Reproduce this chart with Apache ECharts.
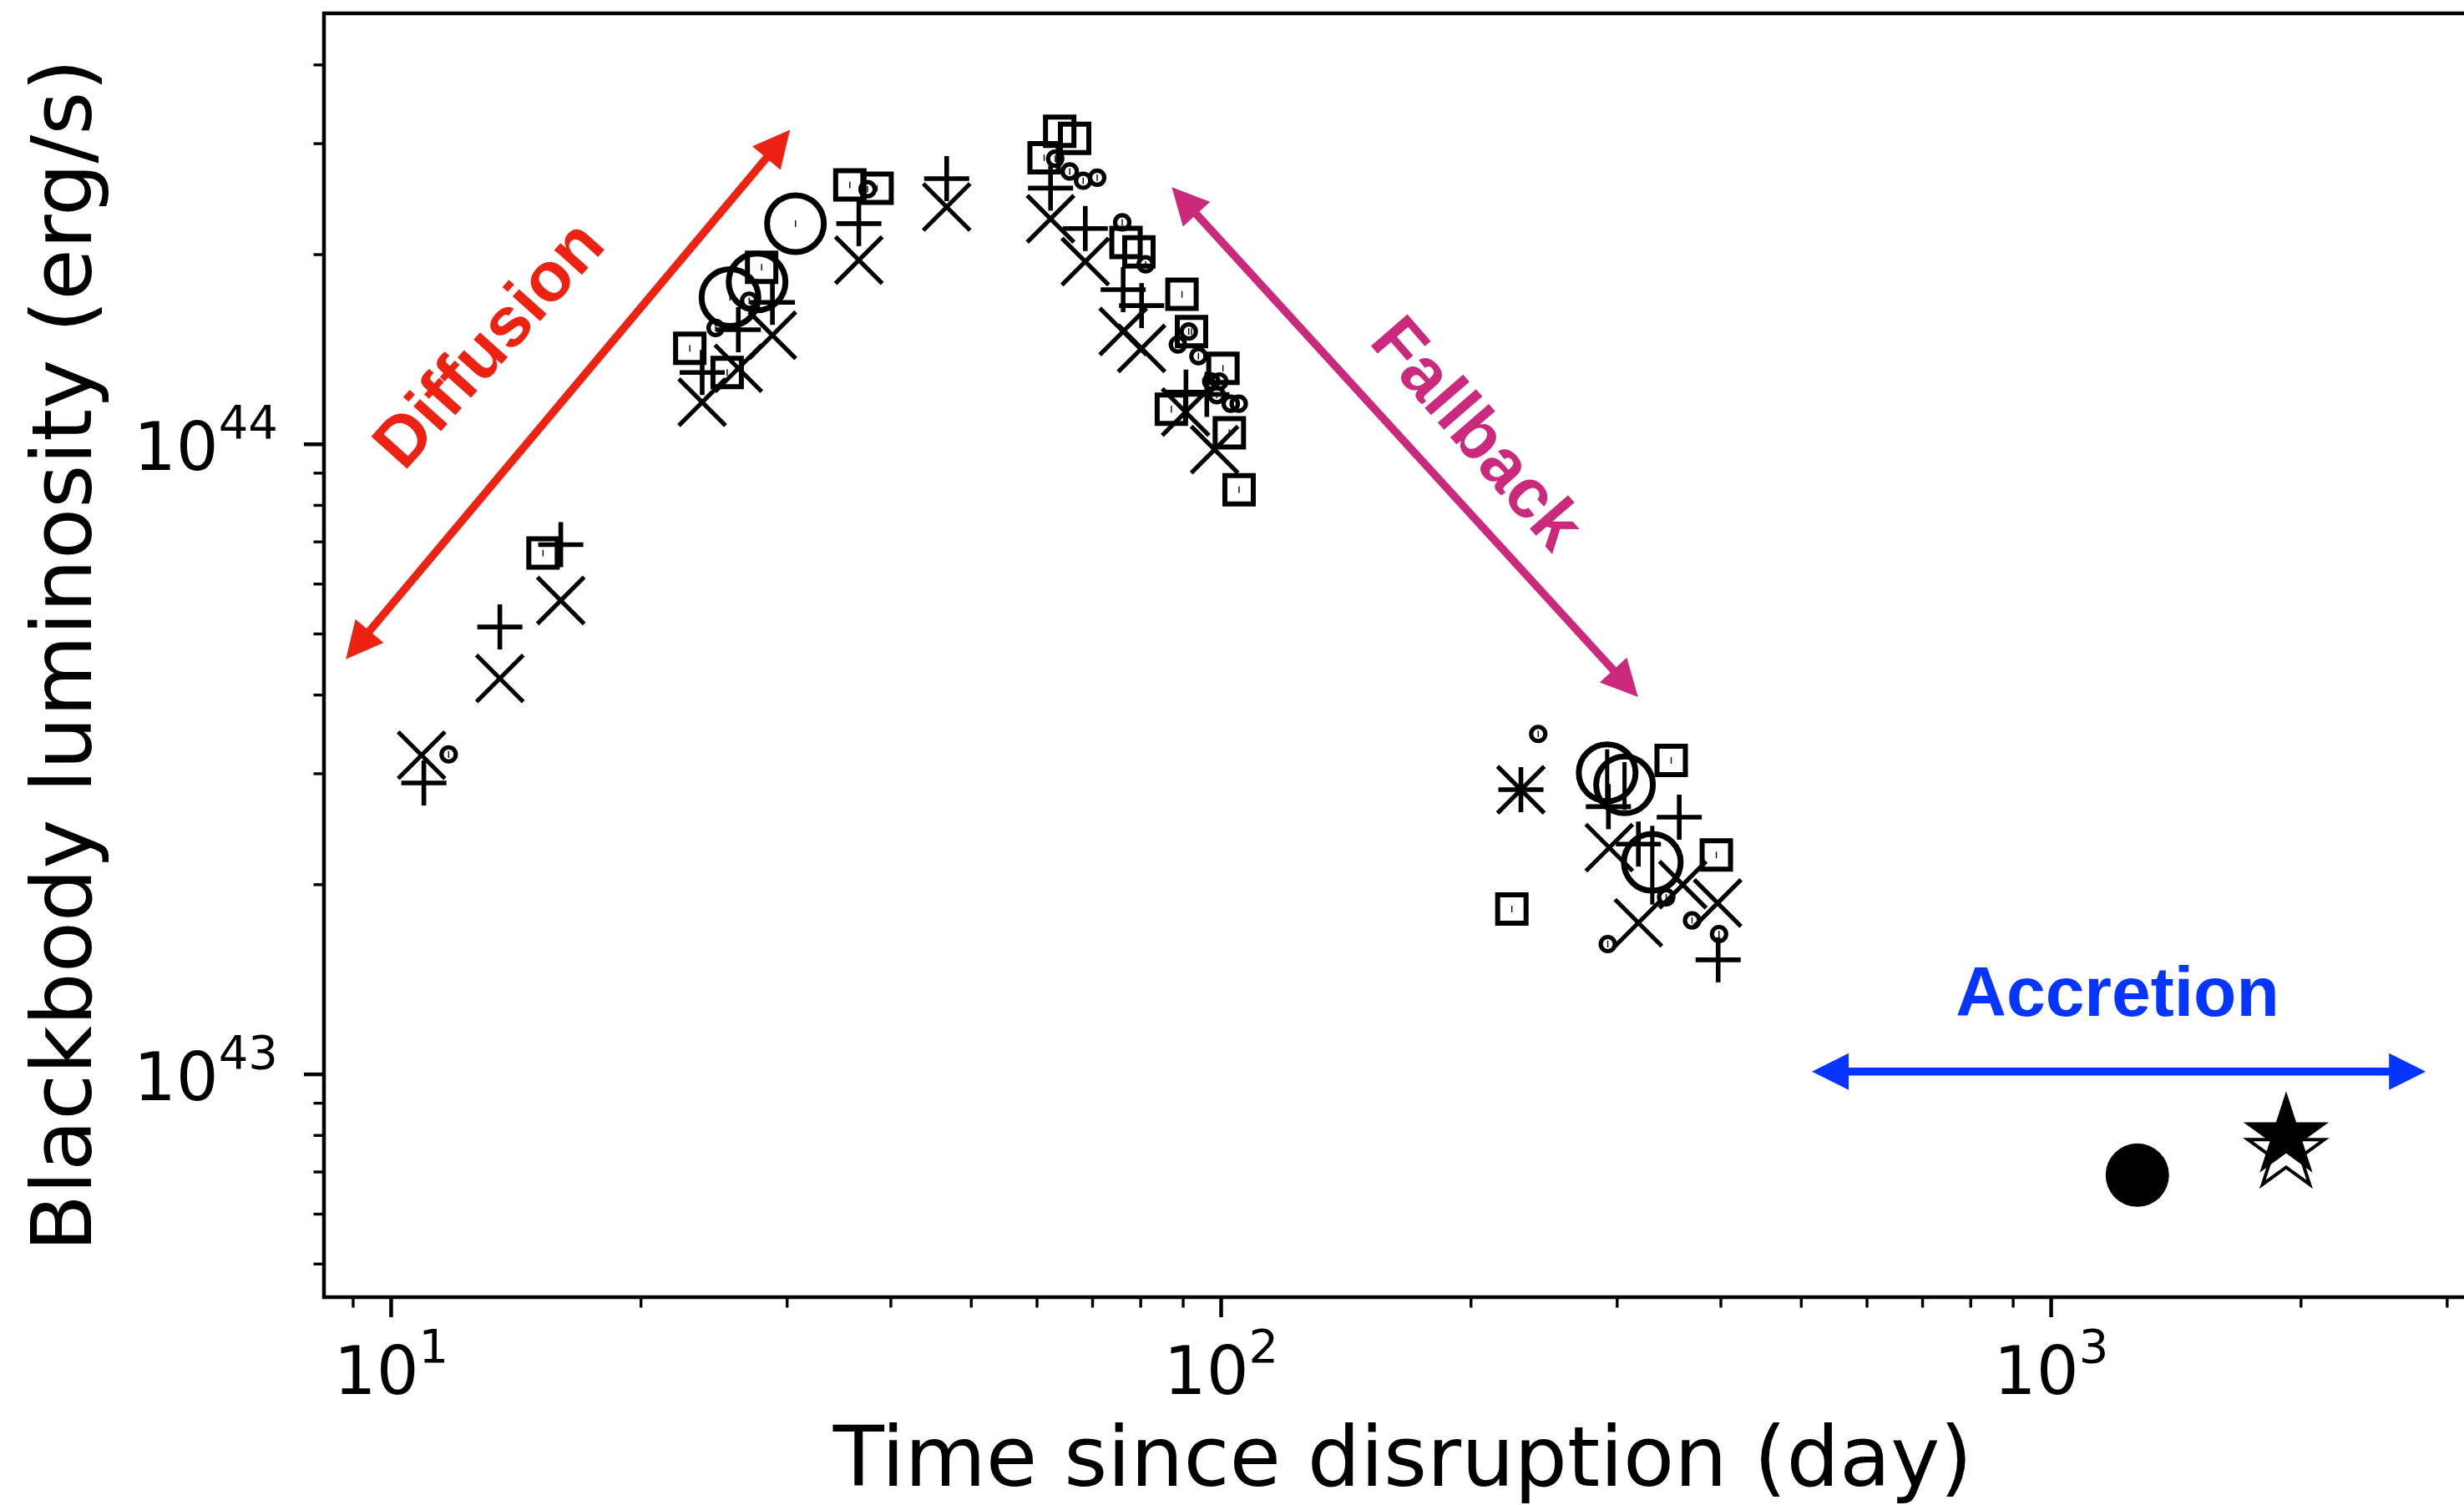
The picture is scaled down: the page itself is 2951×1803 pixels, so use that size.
<!DOCTYPE html>
<html>
<head>
<meta charset="utf-8">
<title>Blackbody luminosity vs time since disruption</title>
<script src="https://cdn.jsdelivr.net/npm/echarts@6/dist/echarts.min.js"></script>
<style>
  html, body { margin: 0; padding: 0; background: #fff; }
  #chart { width: 2951px; height: 1803px; }
</style>
</head>
<body>
<div id="chart"></div>
<script>
// ---- Data: [time since disruption (day), blackbody luminosity (erg/s), optional 1-sigma error] ----
const crossPts = [
  [10.88, 3.21e43], [13.52, 4.25e43], [16.01, 5.65e43], [23.7, 1.166e44], [26.2, 1.32e44],
  [28.8, 1.49e44], [36.6, 1.96e44], [46.7, 2.38e44], [62.3, 2.28e44], [68.6, 1.95e44],
  [76.2, 1.51e44], [80.2, 1.42e44], [90.6, 1.125e44], [98.2, 9.81e43],
  [293.5, 2.29e43], [318.2, 1.74e43], [359.9, 2.00e43], [396.4, 1.87e43]
];
const plusPts = [
  [10.95, 2.90e43], [13.52, 5.13e43], [16.01, 6.93e43], [23.7, 1.30e44], [26.2, 1.52e44],
  [28.8, 1.68e44], [36.6, 2.24e44], [46.7, 2.64e44], [62.3, 2.55e44], [68.6, 2.20e44],
  [76.2, 1.76e44], [80.2, 1.66e44], [90.7, 1.21e44], [96.1, 1.20e44],
  [292.8, 2.66e43], [318.2, 2.32e43], [356.4, 2.56e43], [397, 1.52e43]
];
const squarePts = [
  [15.24, 6.72e43, 0.08e43], [22.9, 1.42e44, 0.017e44], [25.4, 1.30e44, 0.016e44],
  [27.95, 1.91e44, 0.023e44], [35.7, 2.58e44, 0.03e44], [38.5, 2.55e44, 0.03e44],
  [61.2, 2.85e44, 0.034e44], [63.9, 3.14e44, 0.038e44], [66.6, 3.06e44, 0.037e44],
  [76.8, 2.09e44, 0.025e44], [79.6, 2.02e44, 0.024e44], [89.7, 1.73e44, 0.021e44],
  [92.1, 1.51e44, 0.018e44], [100.5, 1.32e44, 0.016e44], [87.1, 1.137e44, 0.014e44],
  [102.3, 1.043e44, 0.013e44], [105.1, 8.47e43, 0.10e43],
  [224, 1.83e43, 0.022e43], [348.5, 3.15e43, 0.038e43], [395, 2.23e43, 0.027e43]
];
const smallCirclePts = [
  [11.73, 3.22e43, 0.04e43], [24.6, 1.53e44, 0.018e44], [27.0, 1.69e44, 0.02e44],
  [37.5, 2.54e44, 0.03e44], [63.1, 2.84e44, 0.034e44], [65.7, 2.71e44, 0.033e44],
  [68.2, 2.62e44, 0.031e44], [70.9, 2.65e44, 0.032e44], [76.0, 2.25e44, 0.027e44],
  [81.1, 1.93e44, 0.023e44], [91.4, 1.51e44, 0.018e44], [88.7, 1.44e44, 0.017e44],
  [93.9, 1.38e44, 0.017e44], [97.3, 1.258e44, 0.015e44], [99.5, 1.258e44, 0.015e44],
  [98.8, 1.197e44, 0.014e44], [102.7, 1.16e44, 0.014e44], [105.0, 1.16e44, 0.014e44],
  [241, 3.47e43, 0.04e43], [292.3, 1.61e43, 0.02e43], [343.7, 1.91e43, 0.023e43],
  [369.3, 1.755e43, 0.021e43], [398, 1.67e43, 0.02e43]
];
const bigCirclePts = [
  [25.6, 1.71e44, 0.02e44], [27.6, 1.81e44, 0.022e44], [30.7, 2.24e44, 0.027e44],
  [291.8, 3.01e43, 0.27e43], [306.2, 2.88e43, 0.25e43], [330.7, 2.17e43, 0.31e43]
];
const asteriskPts = [[229.7, 2.83e43]];
const filledCirclePts = [[1270, 6.92e42]];
const openStarPts = [[1919, 7.53e42]];
const filledStarPts = [[1919, 7.98e42]];

// Phase annotations: arrows [t0, L0, t1, L1] and label anchors [t, L]
const phaseNames = ['Diffusion', 'Fallback', 'Accretion'];
const phaseArrows = [
  [8.82, 4.56e43, 30.24, 3.155e44],
  [87.2, 2.559e44, 317.9, 3.97e43],
  [515, 1.01e43, 2827, 1.01e43]
];
const phaseLabelAt = [[13.2, 1.43e44], [202, 1.032e44], [1202, 1.328e43]];

// Axis ranges and tick decades
const X_MIN = 8.3, X_MAX = 3300;
const Y_MIN = 4.43e42, Y_MAX = 4.83e44;
const xDecades = [0, 1, 2, 3];
const yDecades = [42, 43, 44];

// ---- Styles ----
const phaseColors = ['#EE2212', '#CB2A7C', '#0535FF'];
const phaseAngles = [48, -49, 0];
const FONT = '"DejaVu Sans", sans-serif';
const INK = '#000';

function tickList(lo, hi, decades) {
  const out = [];
  decades.forEach(d => {
    for (let m = 1; m <= 9; m++) {
      const v = m * Math.pow(10, d);
      if (v >= lo && v <= hi) out.push([v, m === 1 ? 1 : 0]);
    }
  });
  return out;
}
const xTicks = tickList(X_MIN, X_MAX, xDecades);
const yTicks = tickList(Y_MIN, Y_MAX, yDecades);

function seg(x1, y1, x2, y2, lw) {
  return { type: 'line', shape: { x1, y1, x2, y2 }, style: { stroke: INK, lineWidth: lw, lineCap: 'butt' } };
}
function starPoints(cx, cy, R) {
  const pts = [], r = R * 0.381966;
  for (let k = 0; k < 10; k++) {
    const ang = -Math.PI / 2 + k * Math.PI / 5;
    const rad = k % 2 === 0 ? R : r;
    pts.push([cx + rad * Math.cos(ang), cy + rad * Math.sin(ang)]);
  }
  return pts;
}

const drawers = {
  cross: p => { const h = 28; return [seg(p[0] - h, p[1] - h, p[0] + h, p[1] + h, 5.2), seg(p[0] - h, p[1] + h, p[0] + h, p[1] - h, 5.2)]; },
  plus: p => { const h = 27; return [seg(p[0] - h, p[1], p[0] + h, p[1], 5.6), seg(p[0], p[1] - h, p[0], p[1] + h, 5.6)]; },
  asterisk: p => { const h = 28, g = 27; return [
    seg(p[0] - h, p[1] - h, p[0] + h, p[1] + h, 5.2), seg(p[0] - h, p[1] + h, p[0] + h, p[1] - h, 5.2),
    seg(p[0] - g, p[1], p[0] + g, p[1], 5.6), seg(p[0], p[1] - g, p[0], p[1] + g, 5.6)]; },
  square: p => [{ type: 'rect', shape: { x: p[0] - 17, y: p[1] - 17, width: 34, height: 34 },
    style: { fill: 'none', stroke: INK, lineWidth: 6 } }],
  smallCircle: p => [{ type: 'circle', shape: { cx: p[0], cy: p[1], r: 8.5 },
    style: { fill: 'none', stroke: INK, lineWidth: 5.2 } }],
  bigCircle: p => [{ type: 'circle', shape: { cx: p[0], cy: p[1], r: 34 },
    style: { fill: 'none', stroke: INK, lineWidth: 7 } }],
  filledCircle: p => [{ type: 'circle', shape: { cx: p[0], cy: p[1], r: 38 }, style: { fill: INK } }],
  openStar: p => [{ type: 'polygon', shape: { points: starPoints(p[0], p[1], 48) },
    style: { fill: '#fff', stroke: INK, lineWidth: 4, lineJoin: 'miter' } }],
  filledStar: p => [{ type: 'polygon', shape: { points: starPoints(p[0], p[1], 49) },
    style: { fill: INK, stroke: INK, lineWidth: 3, lineJoin: 'miter' } }]
};

function markerSeries(name, points, drawer, z) {
  return {
    type: 'custom', name, z, silent: true, clip: false,
    data: points, encode: { x: 0, y: 1 },
    renderItem: (params, api) => {
      const t = api.value(0), L = api.value(1), e = api.value(2);
      const p = api.coord([t, L]);
      const children = [];
      if (e > 0) {
        const top = api.coord([t, L + e]), bot = api.coord([t, L - e]);
        children.push({ type: 'line', shape: { x1: p[0], y1: top[1], x2: p[0], y2: bot[1] },
          style: { stroke: INK, lineWidth: e / L > 0.05 ? 5 : 1.4 } });
      }
      return { type: 'group', children: children.concat(drawer(p)) };
    }
  };
}

const tickSeries = (ticks, isX) => ({
  type: 'custom', silent: true, clip: false, z: 10,
  data: ticks.map(([v, major]) => isX ? [v, Y_MIN, major] : [X_MIN, v, major]),
  encode: { x: 0, y: 1 },
  renderItem: (params, api) => {
    const p = api.coord([api.value(0), api.value(1)]);
    const major = api.value(2) === 1;
    const len = major ? 24 : 12.5;
    const lw = major ? 4.5 : 3.4;
    return isX
      ? { type: 'line', shape: { x1: p[0], y1: p[1], x2: p[0], y2: p[1] + len }, style: { stroke: INK, lineWidth: lw } }
      : { type: 'line', shape: { x1: p[0], y1: p[1], x2: p[0] - len, y2: p[1] }, style: { stroke: INK, lineWidth: lw } };
  }
});

const arrowSeries = {
  type: 'custom', silent: true, clip: false, z: 3,
  data: phaseArrows.map((a, i) => [a[0], a[1], a[2], a[3], i]),
  encode: { x: [0, 2], y: [1, 3] },
  renderItem: (params, api) => {
    const i = api.value(4), c = phaseColors[i];
    const a = api.coord([api.value(0), api.value(1)]);
    const b = api.coord([api.value(2), api.value(3)]);
    const dx = b[0] - a[0], dy = b[1] - a[1], d = Math.hypot(dx, dy);
    const ux = dx / d, uy = dy / d, nx = -uy, ny = ux;
    const H = 44, W = 22;
    const head = (tip, sx, sy) => {
      const bx = tip[0] - sx * H, by = tip[1] - sy * H;
      return { type: 'polygon', shape: { points: [[tip[0], tip[1]], [bx + nx * W, by + ny * W], [bx - nx * W, by - ny * W]] },
        style: { fill: c } };
    };
    return { type: 'group', children: [
      { type: 'line', shape: { x1: a[0] + ux * H * 0.8, y1: a[1] + uy * H * 0.8, x2: b[0] - ux * H * 0.8, y2: b[1] - uy * H * 0.8 },
        style: { stroke: c, lineWidth: 9.5 } },
      head(b, ux, uy), head(a, -ux, -uy)
    ] };
  }
};

const labelSeries = {
  type: 'custom', silent: true, clip: false, z: 3,
  data: phaseLabelAt.map((p, i) => [p[0], p[1], i]),
  encode: { x: 0, y: 1 },
  renderItem: (params, api) => {
    const i = api.value(2);
    const p = api.coord([api.value(0), api.value(1)]);
    return { type: 'text', x: p[0], y: p[1], rotation: phaseAngles[i] * Math.PI / 180,
      style: { text: phaseNames[i], fill: phaseColors[i], fontSize: 84, fontWeight: 'bold',
        fontFamily: '"Liberation Sans", Arial, sans-serif', align: 'center', verticalAlign: 'middle' } };
  }
};

function powLabel(v) {
  const e = Math.round(Math.log10(v));
  if (Math.abs(v / Math.pow(10, e) - 1) > 1e-6) return '';
  return '{b|10}{s|' + e + '}';
}
const labelRich = {
  b: { fontFamily: FONT, fontSize: 80, lineHeight: 100, verticalAlign: 'bottom', color: INK },
  s: { fontFamily: FONT, fontSize: 56, lineHeight: 56, verticalAlign: 'top', color: INK }
};

const chart = echarts.init(document.getElementById('chart'), null, { renderer: 'canvas' });
chart.setOption({
  animation: false,
  backgroundColor: '#fff',
  textStyle: { fontFamily: FONT },
  grid: {
    left: 388, top: 16, width: 2584, height: 1538,
    show: true, borderColor: INK, borderWidth: 4.5, backgroundColor: 'transparent',
    containLabel: false, outerBoundsMode: 'none'
  },
  xAxis: {
    type: 'log', logBase: 10, min: X_MIN, max: X_MAX,
    axisLine: { show: false }, axisTick: { show: false }, splitLine: { show: false },
    axisLabel: { formatter: powLabel, rich: labelRich, margin: 35, showMinLabel: false, showMaxLabel: false },
    name: 'Time since disruption (day)', nameLocation: 'middle', nameGap: 150, nameMoveOverlap: false,
    nameTextStyle: { fontFamily: FONT, fontSize: 100, color: INK }
  },
  yAxis: {
    type: 'log', logBase: 10, min: Y_MIN, max: Y_MAX,
    axisLine: { show: false }, axisTick: { show: false }, splitLine: { show: false },
    axisLabel: { formatter: powLabel, rich: labelRich, margin: 55, showMinLabel: false, showMaxLabel: false },
    name: 'Blackbody luminosity (erg/s)', nameLocation: 'middle', nameGap: 255, nameMoveOverlap: false,
    nameTextStyle: { fontFamily: FONT, fontSize: 100, color: INK }
  },
  series: [
    tickSeries(xTicks, true),
    tickSeries(yTicks, false),
    arrowSeries,
    labelSeries,
    markerSeries('cross', crossPts, drawers.cross, 5),
    markerSeries('plus', plusPts, drawers.plus, 5),
    markerSeries('square', squarePts, drawers.square, 5),
    markerSeries('smallCircle', smallCirclePts, drawers.smallCircle, 5),
    markerSeries('bigCircle', bigCirclePts, drawers.bigCircle, 5),
    markerSeries('asterisk', asteriskPts, drawers.asterisk, 5),
    markerSeries('filledCircle', filledCirclePts, drawers.filledCircle, 5),
    markerSeries('openStar', openStarPts, drawers.openStar, 5),
    markerSeries('filledStar', filledStarPts, drawers.filledStar, 6)
  ]
});
</script>
</body>
</html>
